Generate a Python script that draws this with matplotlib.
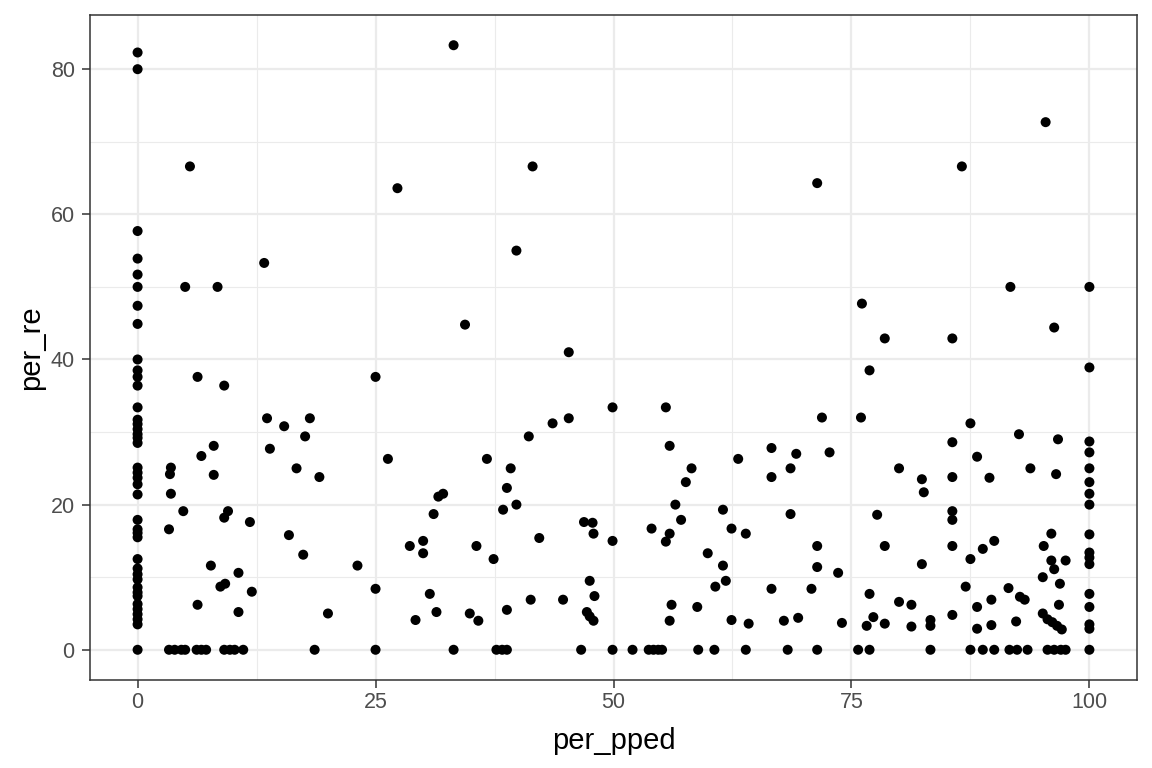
import numpy as np
import matplotlib
matplotlib.use("Agg")
import matplotlib.pyplot as plt
from matplotlib.ticker import MultipleLocator

# points sitting on the x = 0 line
col0_re = [82.3, 80, 57.7, 53.9, 51.7, 50, 47.4, 44.9, 40, 38.5, 37.6, 36.4,
           33.4, 31.7, 31.1, 30.4, 29.7, 29.2, 28.5, 25.1, 24.4, 23.7, 22.8,
           21.4, 17.9, 16.6, 16.1, 15.5, 12.5, 11.2, 10.4, 9.7, 8.6, 7.9, 7.4,
           6.3, 5.6, 4.9, 4.2, 3.5, 0]

# points sitting on the x = 100 line
col100_re = [50, 38.9, 28.7, 27.2, 25.0, 23.1, 21.5, 20.0, 15.9, 13.4, 12.7,
             11.8, 7.7, 5.9, 3.5, 2.9, 0]

# points sitting on the y = 0 line
zero_pped = [3.3, 3.9, 4.6, 5.0, 6.2, 6.7, 7.2, 9.1, 9.7, 10.2, 11.1, 18.6, 25,
             33.2, 37.7, 38.3, 38.8, 46.6, 49.9, 52.0, 53.7, 54.2, 54.7, 55.1,
             58.9, 60.6, 63.9, 68.3,
             71.4, 75.7, 76.9, 83.3, 87.5, 88.8, 90.0, 91.6, 92.4, 93.5, 95.6,
             96.3, 97.0, 97.5]

# everything else
other_pped = [5.5, 27.3, 5.0, 8.4, 13.3,
              6.3, 9.1, 25, 13.6, 15.4, 18.1, 17.6, 13.9, 26.3, 8.0, 6.7, 8.0,
              3.5, 3.4, 3.5, 16.7, 19.1, 31.6, 32.1, 31.1, 4.8, 9.5, 9.1, 11.8,
              3.3, 15.9, 17.4, 28.6, 30, 30, 23.1, 7.7, 10.6, 8.7, 9.2, 12.0,
              25, 30.7, 6.3, 10.6, 20.0, 29.2, 31.4,
              33.2, 41.5, 39.8, 34.4,
              45.3, 49.9, 55.5, 45.3, 43.6, 41.1, 36.7, 39.2, 38.8, 39.8, 38.4,
              35.6, 37.4, 42.2,
              55.9, 58.2, 57.6, 56.5, 57.1, 54.0, 55.9, 55.5, 61.5, 62.4, 63.9,
              63.1, 66.6, 66.6, 68.6, 68.6,
              46.9, 47.8, 47.9, 49.9, 59.9, 61.5, 60.7, 61.8, 47.5, 48.0, 34.9,
              35.8, 38.8, 41.3, 44.7, 47.2, 47.5, 47.9, 56.1, 55.9, 58.8, 62.4,
              64.2, 66.6, 67.9,
              71.4, 86.6, 95.4, 91.7, 76.1, 96.3, 78.5, 85.6,
              76.9, 71.9, 76.0, 87.5, 92.6, 96.7, 85.6, 69.2, 72.7, 80.0, 88.2,
              93.8, 82.4, 82.6, 85.6, 89.5, 96.5, 77.7, 85.6, 85.6, 96.0, 95.2,
              71.4, 78.5, 85.6, 90.0, 88.8, 87.5, 97.5, 96.0, 96.3, 71.4, 73.6,
              82.4, 95.1, 96.9, 70.8, 87.0, 91.5, 76.9, 80.0, 81.3, 89.7, 92.7,
              93.2, 96.8, 88.2, 69.4, 74.0, 76.6, 77.3, 78.5, 81.3, 83.3, 83.3,
              85.6, 88.2, 89.7, 92.3, 95.1, 95.6, 96.1, 96.6, 97.1]
other_re = [66.6, 63.6, 50, 50, 53.3,
            37.6, 36.4, 37.6, 31.9, 30.8, 31.9, 29.4, 27.7, 26.3, 28.1, 26.7,
            24.1, 25.1, 24.2, 21.5, 25.0, 23.8, 21.1, 21.5, 18.7, 19.1, 19.1,
            18.2, 17.6, 16.6, 15.8, 13.1, 14.3, 15, 13.3, 11.6, 11.6, 10.6, 8.7,
            9.1, 8.0, 8.4, 7.7, 6.2, 5.2, 5.0, 4.1, 5.2,
            83.3, 66.6, 55.0, 44.8,
            41.0, 33.4, 33.4, 31.9, 31.2, 29.4, 26.3, 25.0, 22.3, 20.0, 19.3,
            14.3, 12.5, 15.4,
            28.1, 25.0, 23.1, 20.0, 17.9, 16.7, 16.0, 14.9, 19.3, 16.7, 16.0,
            26.3, 27.8, 23.8, 25.0, 18.7,
            17.6, 17.5, 16.0, 15.0, 13.3, 11.6, 8.7, 9.5, 9.5, 7.4, 5.0, 4.0,
            5.5, 6.9, 6.9, 5.2, 4.6, 4.0, 6.2, 4.0, 5.9, 4.1, 3.6, 8.4, 4.0,
            64.3, 66.6, 72.7, 50, 47.7, 44.4, 42.9, 42.9,
            38.5, 32.0, 32.0, 31.2, 29.7, 29.0, 28.6, 27.0, 27.2, 25.0, 26.6,
            25.0, 23.5, 21.7, 23.8, 23.7, 24.2, 18.6, 19.1, 17.9, 16.0, 14.3,
            14.3, 14.3, 14.3, 15.0, 13.9, 12.5, 12.3, 12.3, 11.1, 11.4, 10.6,
            11.8, 10.0, 9.1, 8.4, 8.7, 8.5, 7.7, 6.6, 6.2, 6.9, 7.3,
            6.9, 6.2, 5.9, 4.4, 3.7, 3.3, 4.5, 3.6, 3.2, 4.1, 3.3,
            4.8, 2.9, 3.4, 3.9, 5.0, 4.2, 3.8, 3.3, 2.8]

per_pped = np.concatenate([np.zeros(len(col0_re)), np.full(len(col100_re), 100.0),
                           zero_pped, other_pped])
per_re = np.concatenate([col0_re, col100_re, np.zeros(len(zero_pped)), other_re])

plt.rcParams['font.family'] = ['Liberation Sans', 'DejaVu Sans']

fig = plt.figure(figsize=(11.52, 7.68), dpi=100)
ax = fig.add_axes([90 / 1152, 1 - 680 / 768, 1047 / 1152, 665 / 768])

ax.scatter(per_pped, per_re, s=52, color='black', edgecolors='none', zorder=3)

ax.set_xlim(-5, 105)
ax.set_ylim(-83.3 * 0.05, 83.3 * 1.05)
ax.xaxis.set_major_locator(MultipleLocator(25))
ax.xaxis.set_minor_locator(MultipleLocator(12.5))
ax.yaxis.set_major_locator(MultipleLocator(20))
ax.yaxis.set_minor_locator(MultipleLocator(10))

ax.grid(which='major', color='#EBEBEB', linewidth=1.6, zorder=0)
ax.grid(which='minor', color='#EBEBEB', linewidth=0.8, zorder=0)
ax.set_axisbelow(True)

for sp in ax.spines.values():
    sp.set_color('#333333')
    sp.set_linewidth(1.1)

ax.tick_params(which='major', length=5.5, width=1.1, color='#333333',
               labelcolor='#4D4D4D', labelsize=15.5)
ax.tick_params(axis='x', pad=3.5)
ax.tick_params(axis='y', pad=5.5)
ax.tick_params(which='minor', length=0)

ax.set_xlabel('per_pped', fontsize=21, color='black', labelpad=10)
ax.set_ylabel('per_re', fontsize=21, color='black', labelpad=4)

fig.savefig('out.png', dpi=100)
